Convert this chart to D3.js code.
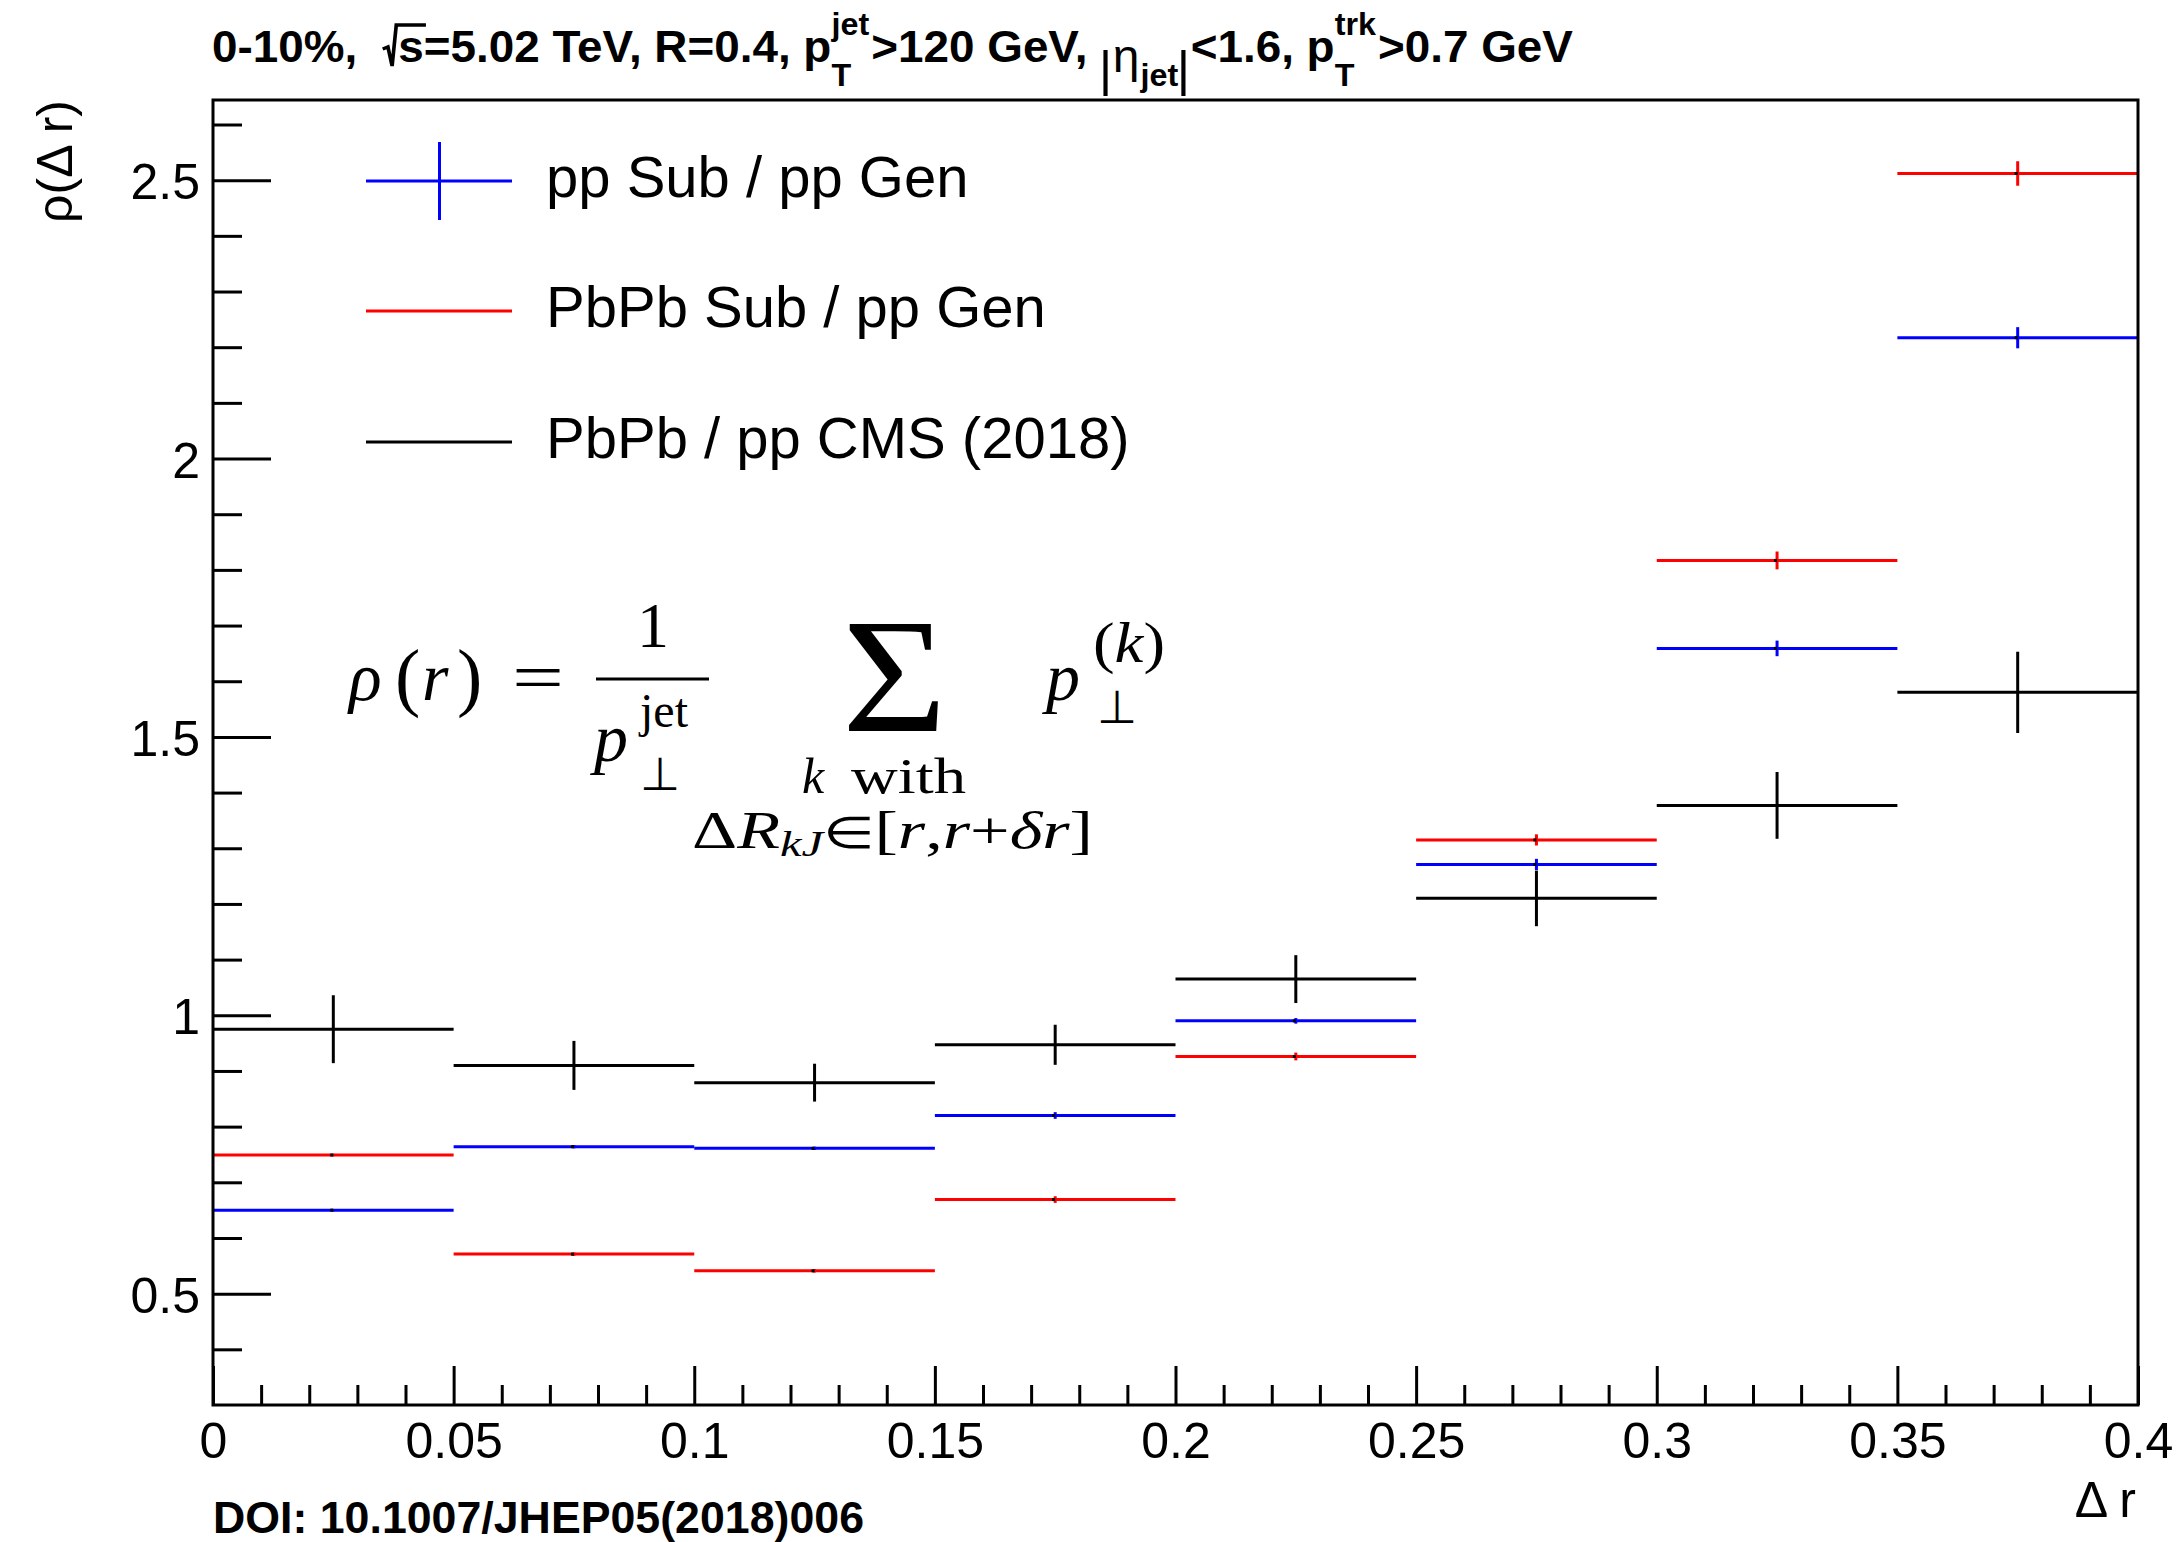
<!DOCTYPE html>
<html>
<head>
<meta charset="utf-8">
<script src="https://cdn.jsdelivr.net/npm/d3@7"></script>
<style>
  html, body { margin: 0; padding: 0; background: #fff; }
  svg { display: block; }
  text { white-space: pre; }
</style>
</head>
<body>
<svg id="chart" width="2183" height="1542"></svg>
<script>
// ---- data: jet shape ratios in bins of Δr ----
const binEdges = [0, 0.05, 0.1, 0.15, 0.2, 0.25, 0.3, 0.35, 0.4];

const ppSubOverGen      = [0.650, 0.764, 0.761, 0.820, 0.990, 1.271, 1.659, 2.217];
const ppSubOverGenErr   = [0.002, 0.003, 0.003, 0.006, 0.005, 0.010, 0.014, 0.019];

const pbpbSubOverGen    = [0.749, 0.571, 0.541, 0.669, 0.926, 1.315, 1.817, 2.512];
const pbpbSubOverGenErr = [0.002, 0.003, 0.003, 0.006, 0.007, 0.010, 0.016, 0.022];

const cms2018           = [0.975, 0.910, 0.879, 0.947, 1.065, 1.210, 1.377, 1.580];
const cms2018Err        = [0.061, 0.044, 0.034, 0.036, 0.043, 0.050, 0.060, 0.073];

const legendLabels = ["pp Sub / pp Gen", "PbPb Sub / pp Gen", "PbPb / pp CMS (2018)"];
const seriesColors = ["#0000ff", "#ff0000", "#000000"];

const xTickValues = [0, 0.05, 0.1, 0.15, 0.2, 0.25, 0.3, 0.35, 0.4];
const xTickLabels = ["0", "0.05", "0.1", "0.15", "0.2", "0.25", "0.3", "0.35", "0.4"];
const yTickValues = [0.5, 1, 1.5, 2, 2.5];
const yTickLabels = ["0.5", "1", "1.5", "2", "2.5"];

// ---- layout ----
const W = 2183, H = 1542;
const frame = { left: 213, right: 2138, top: 100, bottom: 1405 };
const sans = "'Liberation Sans', Arial, Helvetica, sans-serif";
const serif = "'Liberation Serif', 'Times New Roman', serif";

const svg = d3.select("#chart");
svg.append("rect").attr("width", W).attr("height", H).attr("fill", "#fff");

const x = d3.scaleLinear().domain([0, 0.4]).range([frame.left, frame.right]);
const y = d3.scaleLinear().domain([0.3, 2.644]).range([frame.bottom, frame.top]);

const isMajor = (v, step) => Math.abs(v / step - Math.round(v / step)) < 1e-6;

// ---- axes ----
function styleAxis(g) {
  g.select(".domain").remove();
  g.selectAll(".tick line").attr("stroke", "#000").attr("stroke-width", 3);
  g.selectAll(".tick text").attr("fill", "#000").attr("font-family", sans).attr("font-size", 50);
}

const xMinor = x.ticks(40).filter(v => !isMajor(v, 0.05));
svg.append("g").attr("transform", `translate(0,${frame.bottom})`)
  .call(d3.axisBottom(x).tickValues(xMinor).tickSizeInner(-20).tickSizeOuter(0).tickFormat(""))
  .call(styleAxis);
svg.append("g").attr("transform", `translate(0,${frame.bottom})`)
  .call(d3.axisBottom(x).tickValues(xTickValues).tickSizeInner(-39).tickSizeOuter(0)
        .tickPadding(17).tickFormat((d, i) => xTickLabels[i]))
  .call(styleAxis);

const yMinor = y.ticks(25).filter(v => !isMajor(v, 0.5) && v > 0.31);
svg.append("g").attr("transform", `translate(${frame.left},0)`)
  .call(d3.axisLeft(y).tickValues(yMinor).tickSizeInner(-29).tickSizeOuter(0).tickFormat(""))
  .call(styleAxis);
const gy = svg.append("g").attr("transform", `translate(${frame.left},0)`)
  .call(d3.axisLeft(y).tickValues(yTickValues).tickSizeInner(-58).tickSizeOuter(0)
        .tickPadding(13).tickFormat((d, i) => yTickLabels[i]))
  .call(styleAxis);
gy.selectAll(".tick text").attr("dy", "0.37em");

// axis titles
svg.append("text")
  .attr("transform", `translate(72,${frame.top}) rotate(-90)`)
  .attr("text-anchor", "end").attr("font-family", sans).attr("font-size", 50)
  .text("ρ(Δ r)");
svg.append("text")
  .attr("x", frame.right - 2).attr("y", 1517)
  .attr("text-anchor", "end").attr("font-family", sans).attr("font-size", 50)
  .text("Δ r");

// ---- histogram error bars ----
const series = [
  { values: ppSubOverGen,   errors: ppSubOverGenErr,   color: seriesColors[0], dot: true },
  { values: pbpbSubOverGen, errors: pbpbSubOverGenErr, color: seriesColors[1], dot: true },
  { values: cms2018,        errors: cms2018Err,        color: seriesColors[2], dot: false }
];

series.forEach(s => {
  const bins = s.values.map((v, i) => ({ x0: binEdges[i], x1: binEdges[i + 1], v, e: s.errors[i] }));
  const g = svg.append("g").attr("stroke", s.color).attr("stroke-width", 3);
  g.selectAll("line.h").data(bins).join("line").attr("class", "h")
    .attr("x1", d => x(d.x0)).attr("x2", d => x(d.x1))
    .attr("y1", d => y(d.v)).attr("y2", d => y(d.v));
  g.selectAll("line.v").data(bins).join("line").attr("class", "v")
    .attr("x1", d => x((d.x0 + d.x1) / 2)).attr("x2", d => x((d.x0 + d.x1) / 2))
    .attr("y1", d => y(d.v - d.e)).attr("y2", d => y(d.v + d.e));
  if (s.dot) {
    svg.append("g").selectAll("rect").data(bins).join("rect")
      .attr("x", d => x((d.x0 + d.x1) / 2) - 3).attr("y", d => y(d.v) - 1.5)
      .attr("width", 3).attr("height", 3).attr("fill", "#000");
  }
});

// frame
svg.append("rect")
  .attr("x", frame.left).attr("y", frame.top)
  .attr("width", frame.right - frame.left).attr("height", frame.bottom - frame.top)
  .attr("fill", "none").attr("stroke", "#000").attr("stroke-width", 3);

// ---- legend ----
const legendRowsY = [181, 311, 442];
const legendShowsBar = [true, false, false];
legendLabels.forEach((lab, i) => {
  const ly = legendRowsY[i];
  svg.append("line").attr("x1", 366).attr("x2", 512).attr("y1", ly).attr("y2", ly)
    .attr("stroke", seriesColors[i]).attr("stroke-width", 3);
  if (legendShowsBar[i]) {
    svg.append("line").attr("x1", 439.5).attr("x2", 439.5).attr("y1", ly - 39).attr("y2", ly + 39)
      .attr("stroke", seriesColors[i]).attr("stroke-width", 3);
  }
  svg.append("text").attr("x", 546).attr("y", ly + 16)
    .attr("font-family", sans).attr("font-size", 58).attr("fill", "#000").text(lab);
});

// ---- header and footer ----
(function drawHeader() {
  const F = 44, s = 31;
  const g = svg.append("g").attr("font-family", sans).attr("font-weight", "bold").attr("fill", "#000");
  let cx = 0;
  const put = (str, size, dy, opts = {}) => {
    const t = g.append("text").attr("x", cx).attr("y", dy).attr("font-size", size).text(str);
    if (opts.weight) t.attr("font-weight", opts.weight);
    return t.node().getComputedTextLength();
  };
  const stack = (sup, sub) => {
    const w1 = put(sup, s, -27);
    const w2 = put(sub, s, 24);
    cx += Math.max(w1, w2) + 2;
  };
  const bar = () => {
    g.append("line").attr("x1", cx + 5).attr("x2", cx + 5).attr("y1", -12).attr("y2", 34)
      .attr("stroke", "#000").attr("stroke-width", 4);
    cx += 12;
  };
  cx += put("0-10%,  ", F, 0);
  // radical sign over s
  const sw = (() => {
    const t = g.append("text").attr("x", cx + 15).attr("y", 0).attr("font-size", F).text("s");
    return t.node().getComputedTextLength();
  })();
  g.append("path")
    .attr("d", `M${cx},${-13} L${cx + 5},${-15} L${cx + 9},${4} L${cx + 13},${-37} L${cx + 15 + sw + 2},${-37}`)
    .attr("fill", "none").attr("stroke", "#000").attr("stroke-width", 3.5);
  cx += 15 + sw;
  cx += put("=5.02 TeV, R=0.4, p", F, 0);
  stack("jet", "T");
  cx += put(">120 GeV, ", F, 0);
  bar();
  cx += put("η", F + 2, 10, { weight: "normal" }) + 1;
  cx += put("jet", s, 24);
  bar();
  cx += put("<1.6, p", F, 0);
  stack("trk", "T");
  cx += put(">0.7 GeV", F, 0);
  const target = 1573 - 212;
  g.attr("transform", `translate(212,62) scale(${target / cx},1)`);
})();

svg.append("text").attr("x", 213).attr("y", 1533)
  .attr("font-family", sans).attr("font-weight", "bold").attr("font-size", 44)
  .attr("textLength", 651).attr("lengthAdjust", "spacingAndGlyphs")
  .text("DOI: 10.1007/JHEP05(2018)006");

// ---- jet shape definition ----
(function drawFormula() {
  const g = svg.append("g").attr("font-family", serif).attr("fill", "#000");
  const t = (xp, yp, str, size, italic, extra) => {
    const el = g.append("text").attr("x", xp).attr("y", yp).attr("font-size", size)
      .attr("font-style", italic ? "italic" : "normal").text(str);
    if (extra) extra(el);
    return el;
  };
  // left-hand side
  t(349, 700, "ρ", 68, true);
  t(395, 702, "(", 76, false);
  t(422, 700, "r", 68, true);
  t(457, 702, ")", 76, false);
  t(512, 700, "=", 68, false, el => el.attr("textLength", 52).attr("lengthAdjust", "spacingAndGlyphs"));
  // fraction 1 / p_⊥^jet
  t(653, 647, "1", 64, false, el => el.attr("text-anchor", "middle"));
  g.append("line").attr("x1", 596).attr("x2", 709).attr("y1", 679).attr("y2", 679)
    .attr("stroke", "#000").attr("stroke-width", 3);
  t(594, 761, "p", 68, true);
  t(640, 727, "jet", 48, false);
  t(640, 790, "⊥", 46, false, el => el.attr("font-family", "'DejaVu Sans', sans-serif"));
  // summation and its limits
  t(842, 731, "Σ", 164, false, el => el.attr("textLength", 105).attr("lengthAdjust", "spacingAndGlyphs"));
  t(802, 793, "k", 50, true);
  t(851, 793, "with", 50, false, el => el.attr("textLength", 115).attr("lengthAdjust", "spacingAndGlyphs"));
  const lim = t(692, 848, "", 48, false, el => el.attr("textLength", 401).attr("lengthAdjust", "spacingAndGlyphs"));
  lim.append("tspan").attr("font-size", 52).text("Δ");
  lim.append("tspan").attr("font-size", 52).attr("font-style", "italic").text("R");
  lim.append("tspan").attr("font-style", "italic").attr("font-size", 36).attr("dy", 8).text("kJ");
  lim.append("tspan").attr("font-size", 44).attr("dy", -8).text("∈");
  lim.append("tspan").attr("font-size", 52).text("[");
  lim.append("tspan").attr("font-size", 52).attr("font-style", "italic").text("r");
  lim.append("tspan").attr("font-size", 52).text(",");
  lim.append("tspan").attr("font-size", 52).attr("font-style", "italic").text("r");
  lim.append("tspan").attr("font-size", 52).text("+");
  lim.append("tspan").attr("font-size", 52).attr("font-style", "italic").text("δr");
  lim.append("tspan").attr("font-size", 52).text("]");
  // summand p_⊥^(k)
  t(1046, 700, "p", 68, true);
  const sup = t(1093, 662, "", 58, false, el => el.attr("textLength", 72).attr("lengthAdjust", "spacingAndGlyphs"));
  sup.append("tspan").text("(");
  sup.append("tspan").attr("font-style", "italic").text("k");
  sup.append("tspan").text(")");
  t(1097, 723, "⊥", 46, false, el => el.attr("font-family", "'DejaVu Sans', sans-serif"));
})();
</script>
</body>
</html>
